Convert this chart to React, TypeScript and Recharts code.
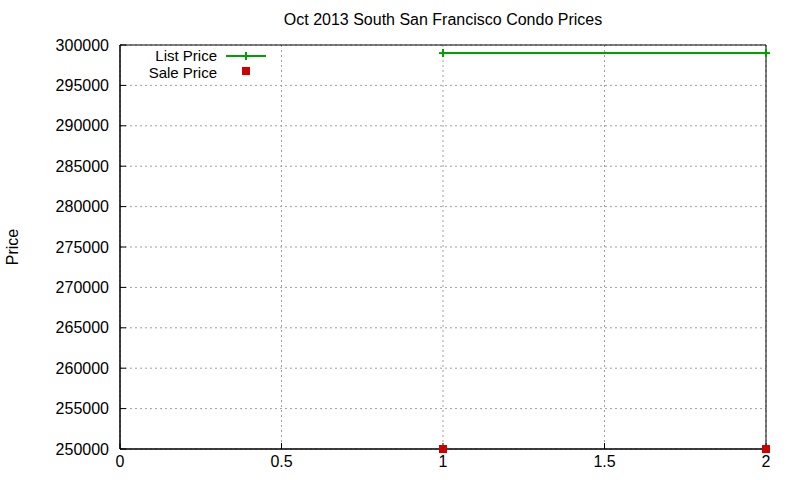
import React from 'react';
import { ComposedChart, Line, XAxis, YAxis, CartesianGrid, ReferenceArea } from 'recharts';

const xValues = [1, 2];
const listPrices = [299000, 299000];
const salePrices = [250000, 250000];
const xTicks = [0, 0.5, 1, 1.5, 2];
const yTicks = [250000, 255000, 260000, 265000, 270000, 275000, 280000, 285000, 290000, 295000, 300000];

const data = xValues.map((x, i) => ({ x, list: listPrices[i], sale: salePrices[i] }));

const GREEN = '#00a000';
const RED = '#d00000';
const FONT = '"Liberation Sans", Arial, sans-serif';

const PlusDot = (props: any) => {
  const { cx, cy } = props;
  if (cx == null || cy == null) return null;
  return (
    <g>
      <line x1={cx - 4} y1={cy} x2={cx + 4} y2={cy} stroke={GREEN} strokeWidth={2} />
      <line x1={cx} y1={cy - 4} x2={cx} y2={cy + 4} stroke={GREEN} strokeWidth={2} />
    </g>
  );
};

const SquareDot = (props: any) => {
  const { cx, cy } = props;
  if (cx == null || cy == null) return null;
  return <rect x={cx - 4} y={cy - 4} width={8} height={8} fill={RED} />;
};

export default function App() {
  const tickStyle = { fill: '#000', fontSize: 16, fontFamily: FONT };
  return (
    <div style={{ position: 'absolute', left: 0, top: 0, width: 800, height: 480, background: '#fff', fontFamily: FONT }}>
      <ComposedChart width={800} height={480} data={data} margin={{ top: 45, right: 34, bottom: 0, left: 0 }}>
        <CartesianGrid stroke="#a0a0a0" strokeDasharray="2 3" horizontal vertical />
        <XAxis
          dataKey="x"
          type="number"
          domain={[0, 2]}
          ticks={xTicks}
          height={31}
          tick={tickStyle}
          tickSize={-6}
          tickMargin={13}
          axisLine={{ stroke: '#000' }}
          tickLine={{ stroke: '#000' }}
          interval={0}
        />
        <YAxis
          type="number"
          domain={[250000, 300000]}
          ticks={yTicks}
          width={120}
          tick={tickStyle}
          tickSize={-6}
          tickMargin={17}
          axisLine={{ stroke: '#000' }}
          tickLine={{ stroke: '#000' }}
          interval={0}
        />
        <ReferenceArea
          x1={xTicks[0]}
          x2={xTicks[xTicks.length - 1]}
          y1={yTicks[0]}
          y2={yTicks[yTicks.length - 1]}
          fill="none"
          fillOpacity={0}
          stroke="#000"
          strokeWidth={1}
          ifOverflow="visible"
        />
        <Line
          dataKey="list"
          stroke={GREEN}
          strokeWidth={2}
          dot={<PlusDot />}
          activeDot={false}
          isAnimationActive={false}
        />
        <Line
          dataKey="sale"
          stroke="none"
          dot={<SquareDot />}
          activeDot={false}
          isAnimationActive={false}
        />
      </ComposedChart>
      <div style={{ position: 'absolute', left: 0, width: 886, top: 11, textAlign: 'center', fontSize: 16, color: '#000' }}>
        Oct 2013 South San Francisco Condo Prices
      </div>
      <div style={{ position: 'absolute', left: 13, top: 247, transform: 'translate(-50%, -50%) rotate(-90deg)', fontSize: 16, color: '#000', whiteSpace: 'nowrap' }}>
        Price
      </div>
      <div style={{ position: 'absolute', left: 100, top: 47, width: 117, textAlign: 'right', fontSize: 15, lineHeight: '17px', color: '#000' }}>
        List Price
      </div>
      <div style={{ position: 'absolute', left: 100, top: 64, width: 117, textAlign: 'right', fontSize: 15, lineHeight: '17px', color: '#000' }}>
        Sale Price
      </div>
      <svg style={{ position: 'absolute', left: 224, top: 47 }} width={46} height={32}>
        <line x1={2} y1={9} x2={42} y2={9} stroke={GREEN} strokeWidth={2} />
        <line x1={22} y1={5} x2={22} y2={13} stroke={GREEN} strokeWidth={2} />
        <rect x={18} y={20} width={8} height={8} fill={RED} />
      </svg>
    </div>
  );
}
